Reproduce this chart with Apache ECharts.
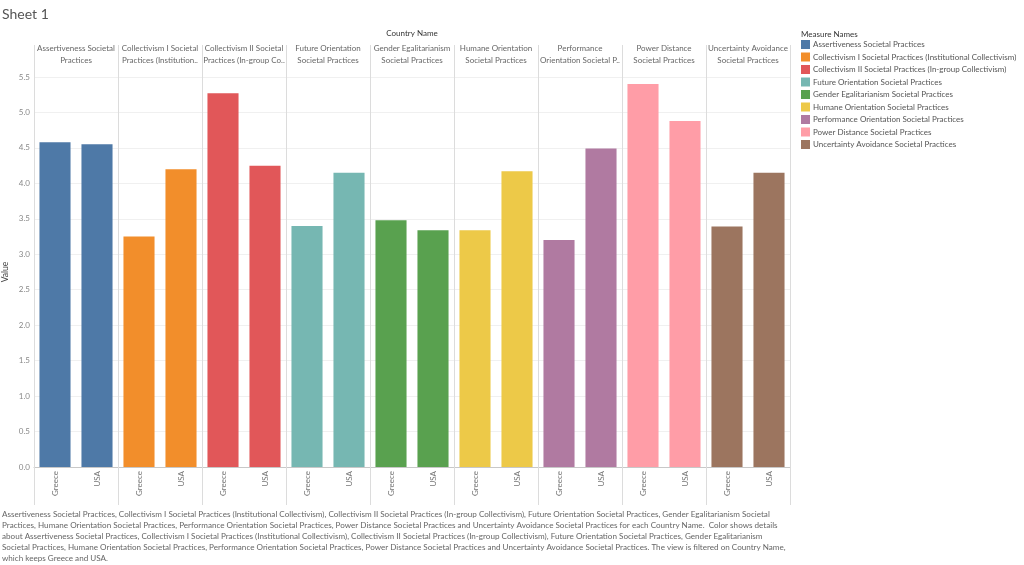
<!DOCTYPE html>
<html>
<head>
<meta charset="utf-8">
<script src="https://cdn.jsdelivr.net/npm/echarts@6/dist/echarts.min.js"></script>
<style>
html,body{margin:0;padding:0;background:#fff;}
#chart{width:1024px;height:565px;}
</style>
</head>
<body>
<div id="chart"></div>
<script>
const measures = [
  'Assertiveness Societal Practices',
  'Collectivism I Societal Practices (Institutional Collectivism)',
  'Collectivism II Societal Practices (In-group Collectivism)',
  'Future Orientation Societal Practices',
  'Gender Egalitarianism Societal Practices',
  'Humane Orientation Societal Practices',
  'Performance Orientation Societal Practices',
  'Power Distance Societal Practices',
  'Uncertainty Avoidance Societal Practices'
];
const panelHeaders = [
  'Assertiveness Societal\nPractices',
  'Collectivism I Societal\nPractices (Institution..',
  'Collectivism II Societal\nPractices (In-group Co..',
  'Future Orientation\nSocietal Practices',
  'Gender Egalitarianism\nSocietal Practices',
  'Humane Orientation\nSocietal Practices',
  'Performance\nOrientation Societal P..',
  'Power Distance\nSocietal Practices',
  'Uncertainty Avoidance\nSocietal Practices'
];
const countries = ['Greece', 'USA'];
const greece = [4.58, 3.25, 5.27, 3.40, 3.48, 3.34, 3.20, 5.40, 3.39];
const usa    = [4.55, 4.20, 4.25, 4.15, 3.34, 4.17, 4.49, 4.88, 4.15];
const colors = ['#4e79a7','#f28e2b','#e15759','#76b7b2','#59a14f','#edc948','#b07aa1','#ff9da7','#9c755f'];
const yTicks = [0, 0.5, 1, 1.5, 2, 2.5, 3, 3.5, 4, 4.5, 5, 5.5];
const caption = 'Assertiveness Societal Practices, Collectivism I Societal Practices (Institutional Collectivism), Collectivism II Societal Practices (In-group Collectivism), Future Orientation Societal Practices, Gender Egalitarianism Societal\n' +
 'Practices, Humane Orientation Societal Practices, Performance Orientation Societal Practices, Power Distance Societal Practices and Uncertainty Avoidance Societal Practices for each Country Name.  Color shows details\n' +
 'about Assertiveness Societal Practices, Collectivism I Societal Practices (Institutional Collectivism), Collectivism II Societal Practices (In-group Collectivism), Future Orientation Societal Practices, Gender Egalitarianism\n' +
 'Societal Practices, Humane Orientation Societal Practices, Performance Orientation Societal Practices, Power Distance Societal Practices and Uncertainty Avoidance Societal Practices. The view is filtered on Country Name,\n' +
 'which keeps Greece and USA.';

const FONT = 'Lato, "Liberation Sans", sans-serif';

// category list: Greece/USA repeated for each measure panel
const xCats = [];
measures.forEach(() => countries.forEach(c => xCats.push(c)));

const series = measures.map((m, i) => {
  const data = xCats.map(() => null);
  data[2 * i] = greece[i];
  data[2 * i + 1] = usa[i];
  return {
    name: m,
    type: 'bar',
    stack: 'all',
    barCategoryGap: '26%',
    xAxisIndex: 0,
    itemStyle: { color: colors[i] },
    data: data
  };
});

const chart = echarts.init(document.getElementById('chart'), null, { renderer: 'canvas' });
chart.setOption({
  animation: false,
  textStyle: { fontFamily: FONT },
  title: [
    { text: 'Sheet 1', left: 2, top: 7, padding: 0, textStyle: { fontSize: 14, fontWeight: 'normal', color: '#555', fontFamily: FONT } },
    { text: 'Measure Names', left: 801, top: 30, padding: 0, textStyle: { fontSize: 8, fontWeight: 'normal', color: '#333', fontFamily: FONT } },
    { text: caption, left: 2, top: 509, padding: 0, textStyle: { fontSize: 8.1, lineHeight: 11, fontWeight: 'normal', color: '#666', fontFamily: FONT } }
  ],
  legend: {
    orient: 'vertical',
    left: 801,
    top: 40,
    padding: 0,
    itemWidth: 9,
    itemHeight: 9,
    itemGap: 3.5,
    icon: 'rect',
    selectedMode: false,
    textStyle: { fontSize: 8, color: '#555', fontFamily: FONT, padding: [0, 0, 0, -2] },
    data: measures
  },
  grid: { left: 34, right: 234, top: 77, bottom: 98, containLabel: false, outerBoundsMode: 'none' },
  xAxis: [
    {
      type: 'category',
      position: 'bottom',
      data: xCats,
      axisLine: { show: true, lineStyle: { color: '#c8c8c8' } },
      axisTick: { show: true, length: 38, interval: function (i) { return i % 2 === 0; }, lineStyle: { color: '#dcdcdc' } },
      axisLabel: { rotate: 90, fontSize: 8, color: '#777', margin: 4, interval: 0 },
      splitLine: { show: false }
    },
    {
      type: 'category',
      position: 'top',
      data: panelHeaders,
      name: 'Country Name',
      nameLocation: 'middle',
      nameGap: 38,
      nameTextStyle: { fontSize: 8, color: '#333' },
      axisLine: { show: false },
      axisTick: { show: true, length: 32, interval: 0, lineStyle: { color: '#dcdcdc' } },
      axisLabel: { interval: 0, fontSize: 8, color: '#666', lineHeight: 12, margin: 11 },
      splitLine: { show: true, interval: 0, lineStyle: { color: '#dcdcdc' } }
    }
  ],
  yAxis: {
    type: 'value',
    min: yTicks[0],
    max: yTicks[yTicks.length - 1],
    interval: 0.5,
    name: 'Value',
    nameLocation: 'middle',
    nameGap: 24,
    nameMoveOverlap: false,
    nameTextStyle: { fontSize: 8.5, color: '#444' },
    axisLine: { show: true, lineStyle: { color: '#dcdcdc' } },
    axisTick: { show: false },
    axisLabel: { fontSize: 8, color: '#888', margin: 4, formatter: v => v.toFixed(1) },
    splitLine: { show: true, lineStyle: { color: '#f0f0f0' } }
  },
  series: series
});
</script>
</body>
</html>
